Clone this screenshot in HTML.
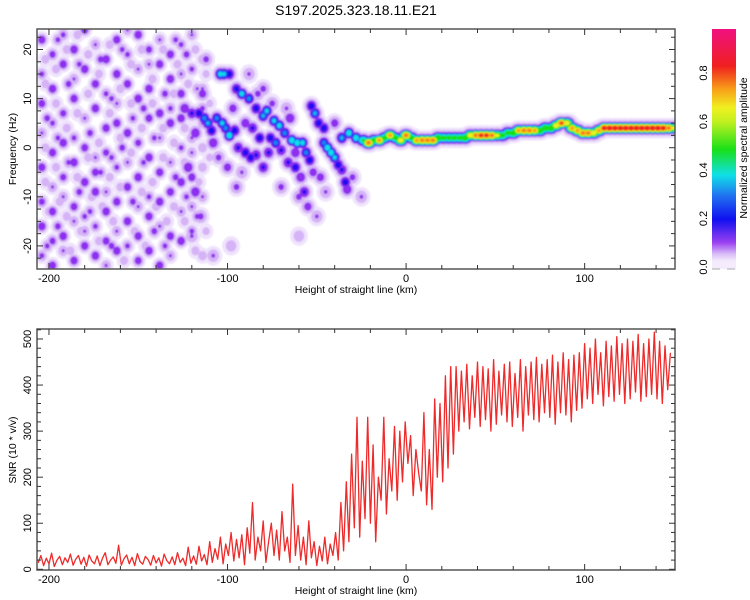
<!DOCTYPE html>
<html><head><meta charset="utf-8">
<style>
html,body{margin:0;padding:0;background:#fff;}
svg{display:block;font-family:"Liberation Sans",sans-serif;}
</style></head>
<body>
<svg id="chart" width="750" height="600" viewBox="0 0 750 600">
<defs>
<linearGradient id="cbg" x1="0" y1="1" x2="0" y2="0">
<stop offset="0" stop-color="#f4ecfd"/>
<stop offset="0.03" stop-color="#d9bdf7"/>
<stop offset="0.08" stop-color="#9a40f0"/>
<stop offset="0.18" stop-color="#1010f0"/>
<stop offset="0.28" stop-color="#2070f0"/>
<stop offset="0.37" stop-color="#10e0e8"/>
<stop offset="0.48" stop-color="#18e018"/>
<stop offset="0.6" stop-color="#c0f020"/>
<stop offset="0.66" stop-color="#f0f020"/>
<stop offset="0.74" stop-color="#f8a018"/>
<stop offset="0.84" stop-color="#f02020"/>
<stop offset="1" stop-color="#f01080"/>
</linearGradient>
<clipPath id="clipTop"><rect x="37" y="29" width="638" height="240"/></clipPath>
<clipPath id="clipBot"><rect x="37" y="329" width="638" height="241"/></clipPath>
<filter id="soft" x="-5%" y="-5%" width="110%" height="110%"><feGaussianBlur stdDeviation="0.9"/></filter>
</defs>
<text x="356" y="15" font-size="14" text-anchor="middle">S197.2025.323.18.11.E21</text>
<g clip-path="url(#clipTop)"><g id="specMarks" filter="url(#soft)"></g></g>
<g id="snrMarks" clip-path="url(#clipBot)"></g>
<g id="axes"></g>
<rect x="712" y="29" width="24" height="232" fill="url(#cbg)"/>
<rect x="712" y="261" width="24" height="8" fill="#f4ecfd"/>
<line x1="712" y1="269" x2="720" y2="269" stroke="#aaa"/>
<line x1="727" y1="269" x2="735" y2="269" stroke="#aaa"/>
<g id="cbar"></g>
<text transform="translate(747,148) rotate(-90)" font-size="10.5" text-anchor="middle">Normalized spectral amplitude</text>
<text x="356" y="293" font-size="10.5" text-anchor="middle">Height of straight line (km)</text>
<text x="356" y="594" font-size="10.5" text-anchor="middle">Height of straight line (km)</text>
<text transform="translate(16,149) rotate(-90)" font-size="10.5" text-anchor="middle">Frequency (Hz)</text>
<text transform="translate(16,450) rotate(-90)" font-size="10.5" text-anchor="middle">SNR (10 * v/v)</text>
</svg>
<script>
const xTicks=[-200,-100,0,100];
const fTicks=[-20,-10,0,10,20];
const snrTicks=[0,100,200,300,400,500];
const cbTicks=[0.0,0.2,0.4,0.6,0.8];
const noiseBlobs=[
[-204,22,.2],[-204,15,.12],[-204,9,.18],[-204,3,.1],[-204,-4,.2],[-204,-11,.15],[-204,-16,.22],[-204,-22,.12],
[-198,19,.15],[-198,12,.22],[-198,5,.12],[-198,-1,.2],[-198,-8,.1],[-198,-13,.2],[-198,-19,.15],[-198,-24,.2],
[-192,23,.12],[-192,17,.2],[-192,7,.15],[-192,1,.22],[-192,-6,.15],[-192,-10,.1],[-192,-18,.22],[-192,-21,.1],
[-186,20,.22],[-186,14,.1],[-186,10,.2],[-186,2,.12],[-186,-3,.22],[-186,-12,.18],[-186,-15,.1],[-186,-23,.2],
[-180,24,.18],[-180,16,.22],[-180,6,.1],[-180,0,.18],[-180,-7,.22],[-180,-14,.12],[-180,-20,.2],[-180,-17,.1],
[-174,21,.1],[-174,13,.2],[-174,8,.22],[-174,-2,.1],[-174,-5,.18],[-174,-9,.22],[-174,-16,.12],[-174,-22,.22],
[-168,18,.22],[-168,11,.12],[-168,4,.2],[-168,-1,.15],[-168,-9,.1],[-168,-13,.22],[-168,-19,.18],[-168,-24,.1],
[-162,22,.2],[-162,15,.22],[-162,9,.1],[-162,5,.2],[-162,-4,.12],[-162,-11,.2],[-162,-17,.1],[-162,-21,.22],
[-156,19,.12],[-156,13,.2],[-156,3,.22],[-156,-3,.1],[-156,-8,.2],[-156,-15,.22],[-156,-20,.12],[-156,24,.1],
[-150,23,.22],[-150,16,.1],[-150,10,.22],[-150,1,.15],[-150,-6,.22],[-150,-12,.1],[-150,-18,.2],[-150,-23,.18],
[-144,20,.15],[-144,12,.22],[-144,6,.18],[-144,-2,.22],[-144,-10,.12],[-144,-14,.2],[-144,-21,.22],[-144,17,.1],
[-138,22,.1],[-138,17,.2],[-138,7,.22],[-138,2,.1],[-138,-5,.2],[-138,-11,.22],[-138,-16,.1],[-138,-24,.2],
[-132,19,.2],[-132,14,.22],[-132,8,.12],[-132,5,.22],[-132,-3,.1],[-132,-9,.2],[-132,-18,.2],[-132,-22,.1],
[-126,21,.12],[-126,11,.2],[-126,6,.22],[-126,0,.12],[-126,-7,.22],[-126,-13,.1],[-126,-19,.22],[-126,15,.1],
[-120,23,.1],[-120,16,.12],[-120,7,.22],[-120,-1,.1],[-120,-6,.2],[-120,-12,.1],[-120,-17,.12],[-120,2,.1],
[-114,18,.08],[-114,12,.1],[-114,5,.1],[-114,-4,.08],[-114,-10,.1],[-114,-22,.08],[-114,8,.12],[-114,0,.08],
[-201,6,.14],[-195,-16,.14],[-189,13,.14],[-183,-9,.14],[-177,3,.14],[-171,18,.14],[-165,-20,.14],[-159,0,.14],
[-153,-11,.14],[-147,8,.14],[-141,-17,.14],[-135,11,.14],[-129,-6,.14],[-123,19,.14],[-117,-14,.12],[-201,-20,.12],
[-195,2,.12],[-189,-3,.12],[-183,17,.12],[-177,-13,.12],[-171,-5,.12],[-165,10,.12],[-159,20,.12],[-153,6,.12],
[-147,-3,.12],[-141,2,.12],[-135,-20,.12],[-129,22,.12],[-123,-10,.12],[-117,12,.1],[-195,22,.12],[-165,-2,.12],
[-202,13,.07],[-202,-7,.07],[-202,0,.07],[-202,18,.07],[-200,-13,.07],[-196,9,.07],[-196,-4,.07],[-196,16,.07],
[-194,-11,.07],[-190,4,.07],[-190,-14,.07],[-190,20,.07],[-188,-21,.07],[-184,7,.07],[-184,-6,.07],[-184,23,.07],
[-182,-17,.07],[-178,11,.07],[-178,-2,.07],[-178,19,.07],[-176,-10,.07],[-172,1,.07],[-172,-19,.07],[-172,15,.07],
[-170,-12,.07],[-166,7,.07],[-166,-6,.07],[-166,21,.07],[-164,-15,.07],[-160,12,.07],[-160,-8,.07],[-160,2,.07],
[-158,-23,.07],[-154,17,.07],[-154,-1,.07],[-154,9,.07],[-152,-17,.07],[-148,4,.07],[-148,-9,.07],[-148,20,.07],
[-146,-20,.07],[-142,9,.07],[-142,-7,.07],[-142,14,.07],[-140,-12,.07],[-136,4,.07],[-136,-2,.07],[-136,20,.07],
[-134,-15,.07],[-130,11,.07],[-130,1,.07],[-130,-12,.07],[-128,17,.07],[-124,-3,.07],[-124,-15,.07],[-124,4,.07],
[-122,13,.07],[-118,-21,.07],[-118,20,.07],[-116,-7,.06],[-112,15,.06],[-112,-17,.06],[-110,9,.06],[-110,-2,.06]
];
const featBlobs=[
[-104,15,.42],[-102,15,.4],[-99,15,.3],[-95,12,.28],[-92,11,.42],[-88,10,.35],[-84,8,.3],[-80,6.5,.38],[-78,7.5,.4],[-74,5.5,.4],
[-71,4.5,.42],[-68,3,.35],[-64,1.5,.45],[-61,1,.45],[-58,1,.42],[-56,-1,.35],[-54,-2.5,.3],[-53,8.5,.3],[-51,7,.38],
[-49,5,.3],[-46,1,.35],[-44,0,.45],[-42,-1,.45],[-40,-2,.4],[-38,-3.5,.3],[-36,-4.5,.25],[-34,-7,.3],[-33,-8.5,.2],
[-36,2,.38],[-32,3,.45],[-28,2,.45],[-116,7,.3],[-113,6,.35],[-111,5,.38],[-109,3.5,.3],[-106,6,.35],[-103,5,.4],
[-101,4,.35],[-99,2.5,.45],[-96,3.5,.3],[-94,0,.25],[-90,-1,.3],[-87,-2,.3],[-84,-1.5,.25],[-80,-4,.25],[-76,2,.3],
[-73,1,.35],[-70,-.5,.25],[-66,-3,.25],[-62,-4,.3],[-59,-6,.2],[-57,-9,.25],[-124,8,.2],[-120,7,.25],[-118,3,.2],
[-122,-4,.2],[-118,-9,.2],[-114,11,.15],[-108,1,.2],[-100,-4,.15],[-95,-8,.12],[-80,12,.12],[-70,-8,.12],[-48,-6,.15],
[-30,-6,.12],[-25,-10,.1],[-50,-14,.1],[-60,-18,.08],[-88,15,.1],[-112,18,.12],[-115,-14,.12],[-120,-18,.1],
[-108,-22,.1],[-98,-20,.08],[-86,4,.25],[-82,2,.3],[-77,-1,.25],[-65,6,.2],[-46,4,.3],[-40,5,.15],
[-97,8,.15],[-90,5,.18],[-83,11,.12],[-75,9,.12],[-67,8,.1],[-62,-1,.2],[-52,-5,.15],[-45,-9,.1],[-105,-2,.12],[-92,-5,.1],[-60,-10,.12],[-55,-12,.15]
];
const ridgeX=[-24,-21,-18,-15,-12,-9,-6,-3,0,3,6,9,12,15,18,21,24,27,30,33,36,39,42,45,48,51,54,57,60,63,66,69,72,75,78,81,84,87,90,93,96,99,102,105,108,111,114,117,120,123,126,129,132,135,138,141,144,147,150];
const ridgeF=[1.5,1,1.5,1.5,2,2.5,2,1.5,2.5,2,1.5,1.5,1.5,1.5,2,2,2,2,2,2,2.5,2.5,2.5,2.5,2.5,2.5,2.5,3,3,3.5,3.5,3.5,3.5,3.5,4,4,4.5,5,5,4,3.5,3,3,3,3.5,4,4,4,4,4,4,4,4,4,4,4,4,4,4];
const ridgeA=[.5,.8,.55,.75,.55,.75,.55,.7,.8,.55,.75,.8,.8,.8,.6,.55,.55,.55,.55,.6,.7,.8,.85,.85,.8,.65,.55,.55,.6,.75,.8,.8,.75,.6,.6,.6,.7,.82,.7,.75,.75,.8,.8,.7,.75,.88,.9,.9,.9,.9,.9,.9,.9,.9,.9,.9,.88,.8,.65];
const snrStart=-206, snrStep=1.5;
const snrValues=[14,30,8,24,12,35,6,20,28,10,25,15,33,9,22,30,11,26,7,31,18,12,29,8,24,36,10,20,27,13,52,9,23,31,12,26,8,34,17,11,28,21,9,30,14,25,7,33,19,12,27,10,36,15,24,8,48,13,29,11,50,18,32,10,
60,15,45,22,70,12,55,30,80,18,65,25,75,10,90,35,145,20,70,40,105,15,60,100,30,85,20,125,40,70,15,185,30,
95,20,70,10,105,25,60,8,50,18,70,12,55,
30,80,20,145,40,190,60,250,90,330,70,235,110,
330,100,270,60,200,150,330,120,240,170,310,150,300,190,320,230,290,160,260,210,
170,340,140,260,130,370,200,360,190,420,220,440,250,
440,300,430,320,445,305,420,330,450,310,440,325,435,300,455,315,430,335,445,320,450,310,425,330,455,300,440,335,450,325,460,320,445,340,455,330,465,315,450,340,470,335,455,320,465,345,470,
350,490,370,480,360,500,380,470,355,495,375,485,365,505,380,490,360,500,370,495,385,510,365,490,375,500,380,515,370,495,360,485,390,470];

const NS='http://www.w3.org/2000/svg';
const X0=37,X1=675,XMIN=-206.7,XMAX=150.6;
const xs=v=>X0+(v-XMIN)/(XMAX-XMIN)*(X1-X0);
const fs=v=>147.7-(v)*4.91;
const ss=v=>569.3-v*0.4606;
const cs=v=>267-v*242.5;
function mk(tag,attrs,parent){const e=document.createElementNS(NS,tag);for(const k in attrs)e.setAttribute(k,attrs[k]);parent.appendChild(e);return e;}

const levels=[0.01,0.04,0.09,0.22,0.3,0.37,0.47,0.6,0.7,0.79,0.9];
const colors=['#efe3fc','#d5b3f6','#8e2ef0','#2410f0','#1e80f0','#10e0e8','#18e018','#e8f020','#f8a018','#f02020','#f01070'];
const halo=[1.6,1.25,1,1,1,1,1,1,1,1,1];
const spec=document.getElementById('specMarks');
const blobs=[];
noiseBlobs.forEach(b=>blobs.push({x:b[0],f:b[1],a:b[2],rx:5,ry:5.5}));
featBlobs.forEach(b=>blobs.push({x:b[0],f:b[1],a:b[2],rx:6,ry:6.5}));
const nR=Math.min(ridgeX.length,ridgeF.length,ridgeA.length);
for(let i=0;i<nR;i++)blobs.push({x:ridgeX[i],f:ridgeF[i],a:ridgeA[i],rx:8,ry:6.5});
levels.forEach((L,li)=>{
  blobs.forEach(b=>{
    if(b.a<=L)return;
    const k=Math.sqrt(1-L/b.a)*halo[li];
    const e=mk('ellipse',{cx:xs(b.x).toFixed(1),cy:fs(b.f).toFixed(1),rx:(b.rx*k).toFixed(2),ry:(b.ry*k).toFixed(2),fill:colors[li]},spec);
    
    
  });
});

const snr=document.getElementById('snrMarks');
let d='';
snrValues.forEach((v,i)=>{d+=(i?'L':'M')+xs(snrStart+i*snrStep).toFixed(1)+','+ss(v).toFixed(1);});
const line=mk('path',{d:d,fill:'none',stroke:'#ee2a2a','stroke-width':1.3,'stroke-linejoin':'round'},snr);



const ax=document.getElementById('axes');
function frame(y0,y1,yTicks,ys,yMinorStep,yMin,yMax,name){
  const r=mk('rect',{x:X0,y:y0,width:X1-X0,height:y1-y0,fill:'none',stroke:'#555','stroke-width':1.5},ax);
  
  
  for(let v=-200;v<=150;v+=20){
    const px=xs(v),len=(v%100===0)?6:4;
    mk('line',{x1:px,y1:y1,x2:px,y2:y1-len,stroke:'#333'},ax);
    mk('line',{x1:px,y1:y0,x2:px,y2:y0+len,stroke:'#333'},ax);
  }
  xTicks.forEach(v=>{
    const t=mk('text',{x:xs(v),y:y1+13,'font-size':11,'text-anchor':'middle'},ax);
    t.textContent=v;
    
    
  });
  for(let v=Math.ceil(yMin/yMinorStep)*yMinorStep;v<=yMax;v+=yMinorStep){
    const py=ys(v),maj=yTicks.includes(v),len=maj?6:4;
    mk('line',{x1:X0,y1:py,x2:X0+len,y2:py,stroke:'#333'},ax);
    mk('line',{x1:X1,y1:py,x2:X1-len,y2:py,stroke:'#333'},ax);
  }
  yTicks.forEach(v=>{
    const t=mk('text',{transform:'translate(31,'+ys(v)+') rotate(-90)','font-size':11,'text-anchor':'middle'},ax);
    t.textContent=v;
    
    
  });
}
frame(29,269,fTicks,fs,2.5,-24.7,24.2,'top-plot');
frame(329,570,snrTicks,ss,20,0,521,'bottom-plot');

const cb=document.getElementById('cbar');
cbTicks.forEach(v=>{
  const t=mk('text',{transform:'translate(707,'+cs(v)+') rotate(-90)','font-size':11,'text-anchor':'middle'},cb);
  t.textContent=v.toFixed(1);
  
  
});
</script>
</body></html>
